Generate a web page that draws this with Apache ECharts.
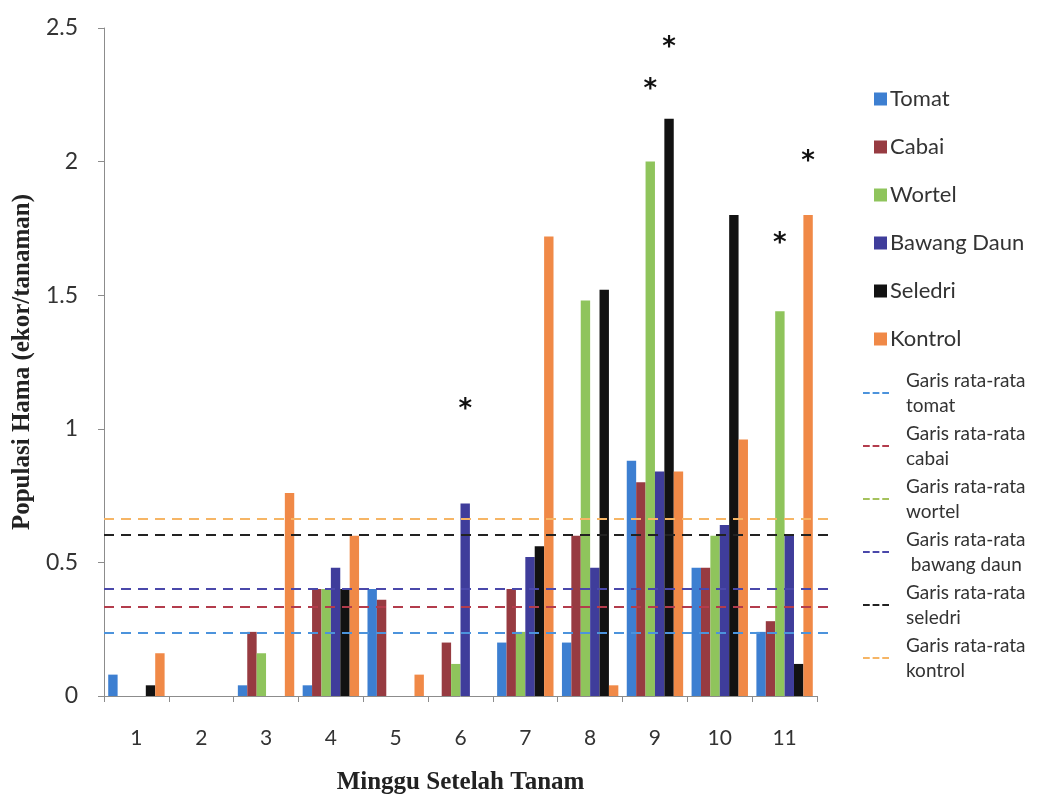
<!DOCTYPE html>
<html>
<head>
<meta charset="utf-8">
<script src="https://cdn.jsdelivr.net/npm/echarts@6/dist/echarts.min.js"></script>
<style>html,body{margin:0;padding:0;background:#fff}#c{width:1037px;height:800px}</style>
</head>
<body>
<div id="c"></div>
<script>
// ---- data ----
const weeks = ['1','2','3','4','5','6','7','8','9','10','11'];
const seriesNames = ['Tomat','Cabai','Wortel','Bawang Daun','Seledri','Kontrol'];
const tomat   = [0.08, 0, 0.04, 0.04, 0.40, 0,    0.20, 0.20, 0.88, 0.48, 0.24];
const cabai   = [0,    0, 0.24, 0.40, 0.36, 0.20, 0.40, 0.60, 0.80, 0.48, 0.28];
const wortel  = [0,    0, 0.16, 0.40, 0,    0.12, 0.24, 1.48, 2.00, 0.60, 1.44];
const bawang  = [0,    0, 0,    0.48, 0,    0.72, 0.52, 0.48, 0.84, 0.64, 0.60];
const seledri = [0.04, 0, 0,    0.40, 0,    0,    0.56, 1.52, 2.16, 1.80, 0.12];
const kontrol = [0.16, 0, 0.76, 0.60, 0.08, 0,    1.72, 0.04, 0.84, 0.96, 1.80];
const meanNames = ['Garis rata-rata\ntomat','Garis rata-rata\ncabai','Garis rata-rata\nwortel','Garis rata-rata\n bawang daun','Garis rata-rata\nseledri','Garis rata-rata\nkontrol'];
const meanValues = [0.235, 0.335, 0.605, 0.40, 0.605, 0.665];
// significant marks: [series index, week index]
const stars = [[3,5],[2,8],[4,8],[2,10],[5,10]];
const yTicks = [0, 0.5, 1, 1.5, 2, 2.5];

// ---- styles ----
const barColors = ['#3d7fd1','#973b41','#8fc45c','#3f3d9b','#121212','#f08947'];
const meanColors = ['#4c93dc','#b33c4c','#a5c25c','#4a48aa','#222222','#f6b565'];
const starDist = {'3,5':80,'2,8':58,'4,8':58,'2,10':54,'5,10':40};
const values = [tomat,cabai,wortel,bawang,seledri,kontrol];
const uiFont = 'Lato';

const series = [];
values.forEach((arr, si) => {
  series.push({
    name: seriesNames[si], type: 'bar', barGap: '0%', barCategoryGap: '13%',
    itemStyle: {color: barColors[si]},
    data: arr.map((v, wi) => {
      const key = si + ',' + wi;
      const isStar = stars.some(s => s[0] === si && s[1] === wi);
      if (!isStar) return v;
      return {value: v, label: {show: true, position: 'top', distance: starDist[key], formatter: '*',
        color: '#111', fontSize: 26, fontWeight: 'bold', fontFamily: 'DejaVu Sans'}};
    })
  });
});
meanValues.forEach((mv, i) => {
  series.push({
    name: meanNames[i], type: 'line', data: [], symbol: 'none',
    itemStyle: {color: meanColors[i]},
    lineStyle: {color: meanColors[i], type: 'dashed'},
    markLine: {silent: true, symbol: 'none', label: {show: false},
      lineStyle: {color: meanColors[i], type: [10, 7], width: 2},
      data: [[{xAxis: 0, yAxis: mv, x: 104}, {yAxis: mv, x: 832}]]}
  });
});

const chart = echarts.init(document.getElementById('c'));
chart.setOption({
  animation: false,
  grid: {left: 104, top: 28, width: 713, height: 675, containLabel: false},
  xAxis: {
    type: 'category', data: weeks,
    name: 'Minggu Setelah Tanam', nameLocation: 'middle', nameGap: 74,
    nameTextStyle: {fontFamily: 'Liberation Serif', fontWeight: 'bold', fontSize: 25, color: '#222'},
    axisLine: {lineStyle: {color: '#8c8c8c'}},
    axisTick: {show: true, alignWithLabel: false, length: 6, lineStyle: {color: '#8c8c8c'}},
    axisLabel: {fontFamily: uiFont, fontSize: 21, color: '#333', margin: 32}
  },
  yAxis: {
    type: 'value', min: 0, max: 2.5, interval: 0.5,
    name: 'Populasi Hama (ekor/tanaman)', nameLocation: 'middle', nameGap: 68, nameRotate: 90,
    nameTextStyle: {fontFamily: 'Liberation Serif', fontWeight: 'bold', fontSize: 25, color: '#222'},
    axisLine: {show: true, lineStyle: {color: '#8c8c8c'}},
    axisTick: {show: true, length: 6, lineStyle: {color: '#8c8c8c'}},
    splitLine: {show: false},
    axisLabel: {fontFamily: uiFont, fontSize: 23, color: '#333', margin: 26,
      formatter: v => yTicks.includes(v) ? String(v) : ''}
  },
  legend: [
    {
      data: seriesNames, orient: 'vertical', left: 869, top: 83, itemGap: 26,
      icon: 'rect', itemWidth: 13, itemHeight: 13,
      textStyle: {fontFamily: uiFont, fontSize: 22, color: '#333', padding: [0,0,0,-2]}
    },
    {
      data: meanNames, orient: 'vertical', left: 858, top: 363, itemGap: 3,
      icon: 'path://M0,0h7v2h-7zM10,0h7v2h-7zM20,0h7v2h-7z', itemWidth: 26, itemHeight: 2,
      textStyle: {fontFamily: uiFont, fontSize: 19, color: '#333', lineHeight: 25, padding: [0,0,0,12]}
    }
  ],
  series: series
});
</script>
</body>
</html>
